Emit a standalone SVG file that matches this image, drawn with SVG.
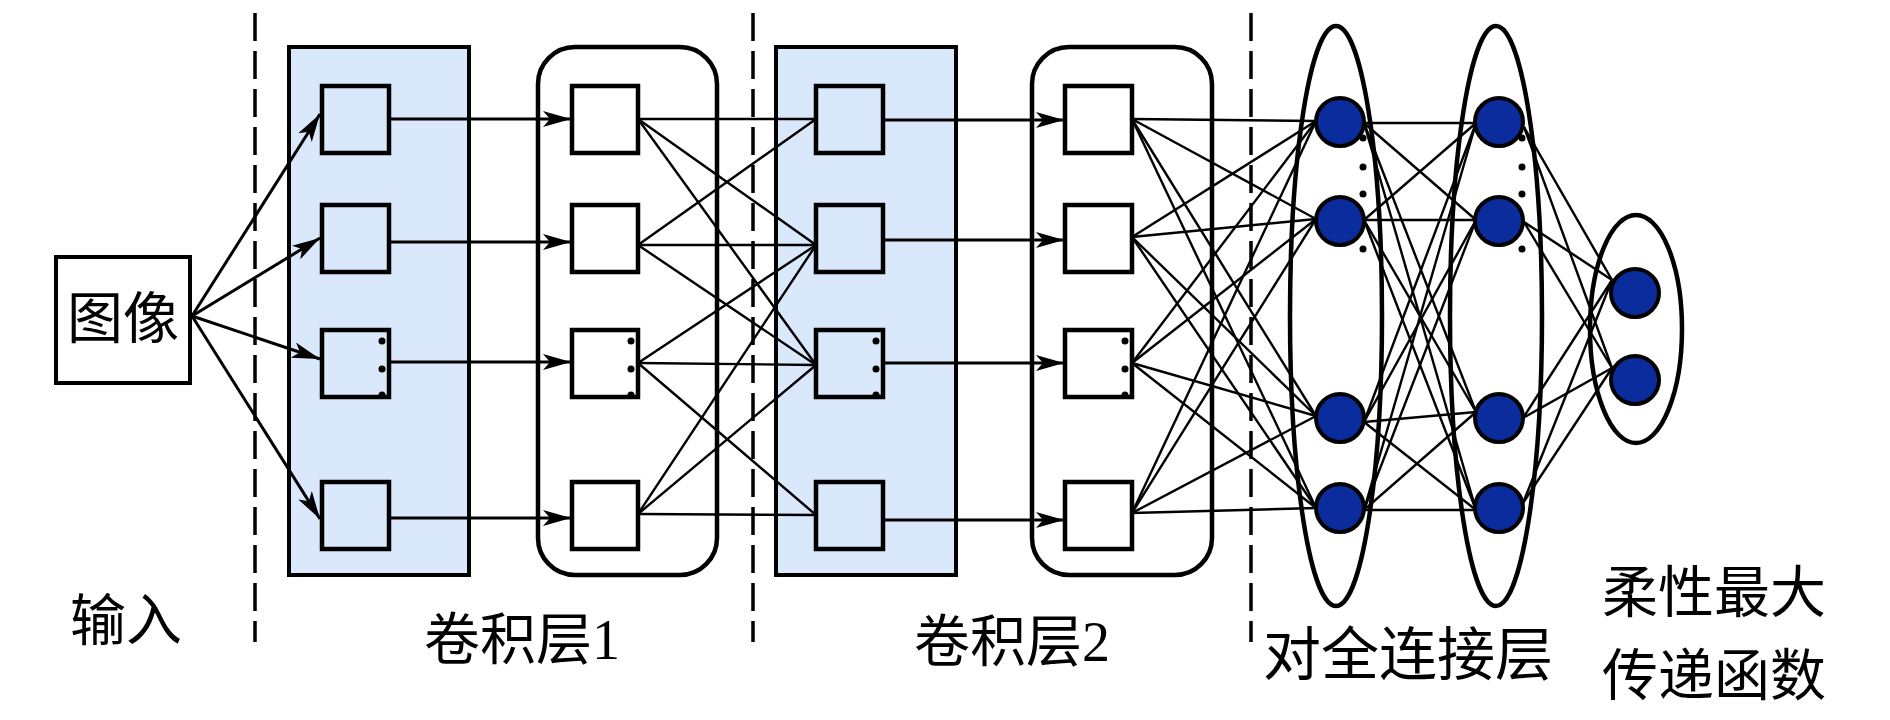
<svg xmlns="http://www.w3.org/2000/svg" width="1890" height="720" viewBox="0 0 1890 720">
<style>
.bg{fill:#ffffff}
.divider{stroke:#000;stroke-width:3.5;stroke-dasharray:28 10;fill:none}
.layerbox{fill:#dae8fc;stroke:#000;stroke-width:4}
.roundbox{fill:none;stroke:#000;stroke-width:4.5}
.sq{stroke:#000;stroke-width:4.5}
.sqb{fill:#dae8fc}
.sqw{fill:#ffffff}
.imgbox{fill:#fff;stroke:#000;stroke-width:4}
.arrow{stroke:#000;stroke-width:3;fill:none;marker-end:url(#arr)}
.link{stroke:#000;stroke-width:2.4;fill:none}
.ell{fill:none;stroke:#000;stroke-width:4.5}
.neuron{fill:#0b2c9c;stroke:#000;stroke-width:4}
.dot{fill:#000}
.lbl{font-family:"Noto Sans CJK SC","Noto Sans CJK JP",sans-serif;fill:#000;text-anchor:middle}
.num{font-family:"Liberation Serif",serif}
</style>
<defs>
<marker id="arr" viewBox="0 0 30 16" markerWidth="30" markerHeight="16" refX="28" refY="8" orient="auto" markerUnits="userSpaceOnUse">
<path d="M0,0 L28,8 L0,16 L7,8 Z" fill="#000"/>
</marker>
</defs>
<rect class="bg" x="0" y="0" width="1890" height="720"/>

<g id="dividers">
<line class="divider" x1="255" y1="13" x2="255" y2="642"/>
<line class="divider" x1="753" y1="13" x2="753" y2="642"/>
<line class="divider" x1="1251" y1="13" x2="1251" y2="642"/>
</g>

<g id="input">
<rect class="imgbox" x="56" y="257" width="134" height="126"/>
<text class="lbl" x="123" y="338" font-size="56">图像</text>
<text class="lbl" x="126" y="640" font-size="56">输入</text>
</g>

<g id="conv1-maps">
<rect class="layerbox" x="289" y="47" width="180" height="528"/>
<rect class="sq sqb" x="322" y="86" width="67" height="67"/>
<rect class="sq sqb" x="322" y="205" width="67" height="67"/>
<rect class="sq sqb" x="322" y="330" width="67" height="67"/>
<rect class="sq sqb" x="322" y="482" width="67" height="67"/>
<circle class="dot" cx="382" cy="341" r="3.5"/>
<circle class="dot" cx="382" cy="369" r="3.5"/>
<circle class="dot" cx="382" cy="395" r="3.5"/>
</g>

<g id="conv1-pool">
<rect class="roundbox" x="538" y="47" width="179" height="528" rx="37" ry="37"/>
<rect class="sq sqw" x="572" y="86" width="66" height="67"/>
<rect class="sq sqw" x="572" y="205" width="66" height="67"/>
<rect class="sq sqw" x="572" y="330" width="66" height="67"/>
<rect class="sq sqw" x="572" y="482" width="66" height="67"/>
<circle class="dot" cx="631" cy="341" r="3.5"/>
<circle class="dot" cx="631" cy="369" r="3.5"/>
<circle class="dot" cx="631" cy="395" r="3.5"/>
</g>

<g id="conv2-maps">
<rect class="layerbox" x="776" y="47" width="180" height="528"/>
<rect class="sq sqb" x="816" y="86" width="67" height="67"/>
<rect class="sq sqb" x="816" y="205" width="67" height="67"/>
<rect class="sq sqb" x="816" y="330" width="67" height="67"/>
<rect class="sq sqb" x="816" y="482" width="67" height="67"/>
<circle class="dot" cx="876" cy="341" r="3.5"/>
<circle class="dot" cx="876" cy="369" r="3.5"/>
<circle class="dot" cx="876" cy="395" r="3.5"/>
</g>

<g id="conv2-pool">
<rect class="roundbox" x="1032" y="47" width="180" height="528" rx="37" ry="37"/>
<rect class="sq sqw" x="1065" y="86" width="67" height="67"/>
<rect class="sq sqw" x="1065" y="205" width="67" height="67"/>
<rect class="sq sqw" x="1065" y="330" width="67" height="67"/>
<rect class="sq sqw" x="1065" y="482" width="67" height="67"/>
<circle class="dot" cx="1125" cy="341" r="3.5"/>
<circle class="dot" cx="1125" cy="369" r="3.5"/>
<circle class="dot" cx="1125" cy="395" r="3.5"/>
</g>

<g id="connectors">
<line class="arrow" x1="192" y1="316" x2="320" y2="114"/>
<line class="arrow" x1="192" y1="316" x2="320" y2="238"/>
<line class="arrow" x1="192" y1="316" x2="320" y2="359"/>
<line class="arrow" x1="192" y1="316" x2="320" y2="519"/>
<line class="arrow" x1="389" y1="119" x2="571" y2="119"/>
<line class="arrow" x1="389" y1="242" x2="571" y2="242"/>
<line class="arrow" x1="389" y1="362" x2="571" y2="362"/>
<line class="arrow" x1="389" y1="518" x2="571" y2="518"/>
<line class="link" x1="638" y1="119" x2="816" y2="119"/>
<line class="link" x1="638" y1="119" x2="816" y2="245"/>
<line class="link" x1="638" y1="119" x2="816" y2="365"/>
<line class="link" x1="638" y1="245" x2="816" y2="119"/>
<line class="link" x1="638" y1="245" x2="816" y2="245"/>
<line class="link" x1="638" y1="245" x2="816" y2="365"/>
<line class="link" x1="638" y1="363" x2="816" y2="245"/>
<line class="link" x1="638" y1="363" x2="816" y2="365"/>
<line class="link" x1="638" y1="363" x2="816" y2="515"/>
<line class="link" x1="638" y1="514" x2="816" y2="245"/>
<line class="link" x1="638" y1="514" x2="816" y2="365"/>
<line class="link" x1="638" y1="514" x2="816" y2="515"/>
<line class="arrow" x1="883" y1="120" x2="1064" y2="120"/>
<line class="arrow" x1="883" y1="240" x2="1064" y2="240"/>
<line class="arrow" x1="883" y1="363" x2="1064" y2="363"/>
<line class="arrow" x1="883" y1="520" x2="1064" y2="520"/>
<line class="link" x1="1132" y1="119" x2="1316" y2="121"/>
<line class="link" x1="1132" y1="119" x2="1316" y2="219"/>
<line class="link" x1="1132" y1="119" x2="1316" y2="416"/>
<line class="link" x1="1132" y1="119" x2="1316" y2="508"/>
<line class="link" x1="1132" y1="237" x2="1316" y2="121"/>
<line class="link" x1="1132" y1="237" x2="1316" y2="219"/>
<line class="link" x1="1132" y1="237" x2="1316" y2="416"/>
<line class="link" x1="1132" y1="237" x2="1316" y2="508"/>
<line class="link" x1="1132" y1="363" x2="1316" y2="121"/>
<line class="link" x1="1132" y1="363" x2="1316" y2="219"/>
<line class="link" x1="1132" y1="363" x2="1316" y2="416"/>
<line class="link" x1="1132" y1="363" x2="1316" y2="508"/>
<line class="link" x1="1132" y1="513" x2="1316" y2="121"/>
<line class="link" x1="1132" y1="513" x2="1316" y2="219"/>
<line class="link" x1="1132" y1="513" x2="1316" y2="416"/>
<line class="link" x1="1132" y1="513" x2="1316" y2="508"/>
<line class="link" x1="1364" y1="123" x2="1476" y2="123"/>
<line class="link" x1="1364" y1="123" x2="1476" y2="220"/>
<line class="link" x1="1364" y1="123" x2="1476" y2="412"/>
<line class="link" x1="1364" y1="123" x2="1476" y2="510"/>
<line class="link" x1="1364" y1="220" x2="1476" y2="123"/>
<line class="link" x1="1364" y1="220" x2="1476" y2="220"/>
<line class="link" x1="1364" y1="220" x2="1476" y2="412"/>
<line class="link" x1="1364" y1="220" x2="1476" y2="510"/>
<line class="link" x1="1364" y1="422" x2="1476" y2="123"/>
<line class="link" x1="1364" y1="422" x2="1476" y2="220"/>
<line class="link" x1="1364" y1="422" x2="1476" y2="412"/>
<line class="link" x1="1364" y1="422" x2="1476" y2="510"/>
<line class="link" x1="1364" y1="510" x2="1476" y2="123"/>
<line class="link" x1="1364" y1="510" x2="1476" y2="220"/>
<line class="link" x1="1364" y1="510" x2="1476" y2="412"/>
<line class="link" x1="1364" y1="510" x2="1476" y2="510"/>
<line class="link" x1="1524" y1="127" x2="1612" y2="280"/>
<line class="link" x1="1524" y1="127" x2="1612" y2="368"/>
<line class="link" x1="1524" y1="222" x2="1612" y2="280"/>
<line class="link" x1="1524" y1="222" x2="1612" y2="368"/>
<line class="link" x1="1523" y1="418" x2="1612" y2="280"/>
<line class="link" x1="1523" y1="418" x2="1612" y2="368"/>
<line class="link" x1="1523" y1="503" x2="1612" y2="280"/>
<line class="link" x1="1523" y1="503" x2="1612" y2="368"/>
</g>

<g id="fc1">
<ellipse class="ell" cx="1336" cy="316" rx="46" ry="290"/>
<circle class="neuron" cx="1340" cy="122" r="24"/>
<circle class="neuron" cx="1340" cy="221" r="24"/>
<circle class="neuron" cx="1340" cy="418" r="24"/>
<circle class="neuron" cx="1340" cy="508" r="24"/>
<circle class="dot" cx="1363" cy="138" r="3.5"/>
<circle class="dot" cx="1363" cy="167" r="3.5"/>
<circle class="dot" cx="1363" cy="194" r="3.5"/>
<circle class="dot" cx="1363" cy="249" r="3.5"/>
</g>

<g id="fc2">
<ellipse class="ell" cx="1496" cy="316" rx="46" ry="290"/>
<circle class="neuron" cx="1499" cy="122" r="24"/>
<circle class="neuron" cx="1499" cy="221" r="24"/>
<circle class="neuron" cx="1499" cy="418" r="24"/>
<circle class="neuron" cx="1499" cy="508" r="24"/>
<circle class="dot" cx="1522" cy="138" r="3.5"/>
<circle class="dot" cx="1522" cy="167" r="3.5"/>
<circle class="dot" cx="1522" cy="194" r="3.5"/>
<circle class="dot" cx="1522" cy="249" r="3.5"/>
</g>

<g id="softmax">
<ellipse class="ell" cx="1636" cy="329" rx="46" ry="114"/>
<circle class="neuron" cx="1635" cy="293" r="24"/>
<circle class="neuron" cx="1635" cy="380" r="24"/>
</g>

<g id="labels">
<text class="lbl" x="522" y="659" font-size="56">卷积层<tspan class="num">1</tspan></text>
<text class="lbl" x="1012" y="661" font-size="56">卷积层<tspan class="num">2</tspan></text>
<text class="lbl" x="1408" y="675" font-size="58">对全连接层</text>
<text class="lbl" x="1714" y="612" font-size="56">柔性最大</text>
<text class="lbl" x="1714" y="695" font-size="56">传递函数</text>
</g>
</svg>
